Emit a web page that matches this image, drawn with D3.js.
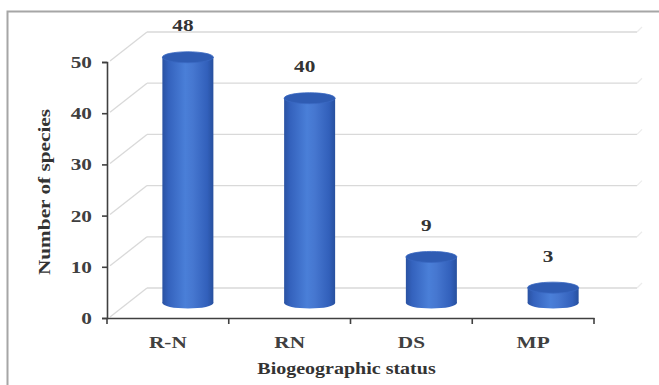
<!DOCTYPE html>
<html>
<head>
<meta charset="utf-8">
<script src="https://cdn.jsdelivr.net/npm/d3@7"></script>
<style>
  html, body { margin: 0; padding: 0; background: #fff; }
  svg { display: block; }
</style>
</head>
<body>
<svg id="chart" width="659" height="385"></svg>
<script>
// Species counts per biogeographic status
const categories = ["R-N", "RN", "DS", "MP"];
const speciesCounts = [48, 40, 9, 3];
const yTicks = [0, 10, 20, 30, 40, 50];

(function () {
const svg = d3.select("#chart");
const W = 659, H = 385;
const font = "'Liberation Serif', 'Times New Roman', serif";
// wide-set lettering
const stretch = 1.33;

// plot frame
const plotLeft = 107, plotRight = 594, plotTop = 62, plotBottom = 318;
// 3-D depth of the back wall
const depthX = 40, depthY = -30;

const x = d3.scaleBand().domain(categories).range([plotLeft, plotRight]);
const y = d3.scaleLinear().domain([0, 50]).range([plotBottom, plotTop]);

// outer border
svg.append("rect")
  .attr("x", 7.5).attr("y", 11.5)
  .attr("width", W + 10).attr("height", H + 10)
  .attr("fill", "none").attr("stroke", "#a6a6a6").attr("stroke-width", 2);

// gradient for cylinder bodies
const defs = svg.append("defs");
const grad = defs.append("linearGradient").attr("id", "cyl")
  .attr("x1", "0").attr("x2", "1").attr("y1", "0").attr("y2", "0");
[[0, "#2a52a2"], [0.12, "#3462bd"], [0.45, "#4a7fd8"], [0.6, "#4677d0"], [0.88, "#3260bb"], [1, "#27509e"]]
  .forEach(([o, c]) => grad.append("stop").attr("offset", o).attr("stop-color", c));

// back-wall gridlines and side-wall diagonals
const grid = svg.append("g").attr("stroke", "#d9d9d9").attr("stroke-width", 1.3).attr("fill", "none");
yTicks.forEach(v => {
  grid.append("line")
    .attr("x1", plotLeft + depthX).attr("x2", plotRight + depthX + 3)
    .attr("y1", y(v) + depthY).attr("y2", y(v) + depthY);
  grid.append("line")
    .attr("x1", plotLeft + 3).attr("y1", y(v) - 1)
    .attr("x2", plotLeft + depthX).attr("y2", y(v) + depthY);
  grid.append("line").attr("stroke", "#ececec")
    .attr("x1", plotRight + depthX + 3).attr("y1", y(v) + depthY)
    .attr("x2", plotRight + depthX + 8).attr("y2", y(v) + depthY - 5);
});

// cylinders
const rx = 25.5, ry = 5.5;
const cx = d => x(d.cat) + x.bandwidth() / 2 + depthX / 2;
const baseY = () => y(0) + depthY / 2;
const topY = d => y(d.val) + depthY / 2;
const data = categories.map((c, i) => ({ cat: c, val: speciesCounts[i] }));

const bars = svg.append("g").selectAll("g").data(data).join("g");
bars.append("ellipse")
  .attr("cx", cx).attr("cy", baseY)
  .attr("rx", rx).attr("ry", ry)
  .attr("fill", "url(#cyl)");
bars.append("rect")
  .attr("x", d => cx(d) - rx).attr("y", topY)
  .attr("width", rx * 2).attr("height", d => baseY() - topY(d))
  .attr("fill", "url(#cyl)");
bars.append("ellipse")
  .attr("cx", cx).attr("cy", topY)
  .attr("rx", rx).attr("ry", ry)
  .attr("fill", "#2f5cb3").attr("stroke", "#3a68c2").attr("stroke-width", 0.8);

// value labels
bars.append("text")
  .attr("transform", d => `translate(${cx(d) - 5},${topY(d) - 26}) scale(${stretch},1)`)
  .attr("text-anchor", "middle")
  .attr("font-family", font).attr("font-weight", "bold").attr("font-size", 16)
  .attr("fill", "#333")
  .text(d => d.val);

// y axis
const yAxis = svg.append("g").attr("transform", `translate(${plotLeft},0)`)
  .call(d3.axisLeft(y).tickValues(yTicks).tickSize(5).tickPadding(6));
yAxis.select(".domain").attr("stroke", "#404040").attr("stroke-width", 1.6);
yAxis.selectAll(".tick line").attr("stroke", "#404040").attr("stroke-width", 1.6);
yAxis.selectAll(".tick text")
  .attr("x", 0).attr("dy", "0.34em")
  .attr("transform", `translate(-15,0) scale(${stretch},1)`)
  .attr("font-family", font).attr("font-weight", "bold").attr("font-size", 16)
  .attr("fill", "#404040");

// x axis
const xAxis = svg.append("g").attr("transform", `translate(0,${plotBottom})`)
  .call(d3.axisBottom(x).tickSize(0).tickPadding(0));
xAxis.select(".domain").attr("stroke", "#404040").attr("stroke-width", 1.6);
xAxis.selectAll(".tick text")
  .attr("y", 0).attr("dy", 0)
  .attr("transform", `translate(0,30) scale(${stretch},1)`)
  .attr("font-family", font).attr("font-weight", "bold").attr("font-size", 16)
  .attr("fill", "#404040");
// category boundary ticks
const edges = categories.map(c => x(c)).concat([plotRight]);
xAxis.selectAll(".edge").data(edges).join("line")
  .attr("x1", d => d).attr("x2", d => d)
  .attr("y1", 0).attr("y2", 6)
  .attr("stroke", "#404040").attr("stroke-width", 1.6);

// axis titles
svg.append("text")
  .attr("transform", `translate(50,${(plotTop + plotBottom) / 2 + 2}) rotate(-90) scale(${stretch},1)`)
  .attr("text-anchor", "middle")
  .attr("font-family", font).attr("font-weight", "bold").attr("font-size", 16)
  .attr("fill", "#333")
  .text("Number of species");
svg.append("text")
  .attr("transform", `translate(${(plotLeft + plotRight) / 2 - 4},374) scale(1.25,1)`)
  .attr("text-anchor", "middle")
  .attr("font-family", font).attr("font-weight", "bold").attr("font-size", 16)
  .attr("fill", "#333")
  .text("Biogeographic status");
})();
</script>
</body>
</html>
